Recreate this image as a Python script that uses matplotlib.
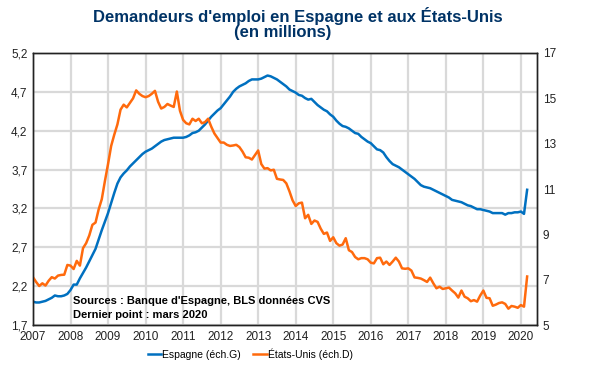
import numpy as np
import matplotlib
matplotlib.use("Agg")
import matplotlib.pyplot as plt
from matplotlib.ticker import FuncFormatter

plt.rcParams['font.family'] = ['Liberation Sans', 'DejaVu Sans']

# monthly values, Jan 2007 -> Mar 2020 (millions)
espagne = [
    2.00, 1.99, 1.99, 2.00, 2.01, 2.03, 2.05, 2.08, 2.07, 2.07, 2.08, 2.10,  # 2007
    2.15, 2.22, 2.22, 2.30, 2.37, 2.44, 2.52, 2.60, 2.68, 2.80, 2.92, 3.03,  # 2008
    3.14, 3.27, 3.40, 3.52, 3.60, 3.65, 3.69, 3.74, 3.78, 3.82, 3.86, 3.90,  # 2009
    3.93, 3.95, 3.97, 4.00, 4.03, 4.06, 4.08, 4.09, 4.10, 4.11, 4.11, 4.11,  # 2010
    4.11, 4.12, 4.14, 4.17, 4.18, 4.20, 4.24, 4.28, 4.33, 4.38, 4.42, 4.46,  # 2011
    4.49, 4.54, 4.59, 4.64, 4.70, 4.74, 4.77, 4.79, 4.81, 4.84, 4.86, 4.86,  # 2012
    4.86, 4.87, 4.89, 4.91, 4.90, 4.88, 4.86, 4.83, 4.80, 4.77, 4.73, 4.71,  # 2013
    4.69, 4.66, 4.65, 4.62, 4.60, 4.61, 4.57, 4.53, 4.50, 4.47, 4.45, 4.41,  # 2014
    4.38, 4.33, 4.29, 4.26, 4.25, 4.23, 4.20, 4.17, 4.16, 4.12, 4.09, 4.06,  # 2015
    4.04, 4.00, 3.96, 3.95, 3.92, 3.86, 3.81, 3.77, 3.75, 3.73, 3.70, 3.67,  # 2016
    3.64, 3.61, 3.58, 3.54, 3.50, 3.48, 3.47, 3.46, 3.44, 3.42, 3.40, 3.38,  # 2017
    3.36, 3.34, 3.31, 3.30, 3.29, 3.28, 3.26, 3.24, 3.23, 3.21, 3.19, 3.19,  # 2018
    3.18, 3.17, 3.16, 3.14, 3.14, 3.14, 3.14, 3.12, 3.14, 3.14, 3.15, 3.15,  # 2019
    3.16, 3.13, 3.44,                                                        # 2020
]

etats_unis = [
    7.11, 6.90, 6.72, 6.84, 6.74, 6.95, 7.11, 7.05, 7.18, 7.21, 7.22, 7.65,
    7.62, 7.47, 7.83, 7.62, 8.39, 8.61, 8.95, 9.42, 9.52, 10.10, 10.55, 11.35,
    12.10, 12.90, 13.40, 13.85, 14.50, 14.72, 14.60, 14.80, 15.00, 15.35, 15.20, 15.10,
    15.05, 15.10, 15.20, 15.33, 14.85, 14.55, 14.62, 14.75, 14.68, 14.62, 15.30, 14.45,
    14.05, 13.90, 13.85, 14.10, 14.00, 14.10, 13.90, 13.95, 14.10, 13.75, 13.45, 13.25,
    13.05, 13.05, 12.95, 12.90, 12.92, 12.95, 12.85, 12.65, 12.40, 12.38, 12.30, 12.50,
    12.70, 12.10, 11.90, 11.92, 11.82, 11.85, 11.45, 11.42, 11.40, 11.25, 10.90, 10.50,
    10.25, 10.37, 10.40, 9.71, 9.86, 9.46, 9.61, 9.55, 9.25, 9.02, 9.08, 8.71,
    8.87, 8.61, 8.50, 8.55, 8.83, 8.30, 8.22, 8.00, 7.90, 7.95, 7.95, 7.90,
    7.75, 7.72, 7.95, 7.97, 7.68, 7.80, 7.65, 7.80, 7.97, 7.80, 7.50, 7.48,
    7.50, 7.40, 7.10, 7.08, 7.05, 6.98, 6.90, 7.09, 6.84, 6.62, 6.69, 6.59,
    6.62, 6.65, 6.52, 6.40, 6.21, 6.52, 6.25, 6.18, 6.05, 6.10, 6.03, 6.30,
    6.52, 6.20, 6.18, 5.85, 5.90, 5.97, 6.00, 5.93, 5.72, 5.84, 5.81, 5.76,
    5.88, 5.81, 7.14,
]

annees = list(range(2007, 2021))
dates = 2007 + np.arange(len(espagne)) / 12

bleu = '#0070C0'
orange = '#FF6A0D'

fig = plt.figure(figsize=(5.93, 3.84), dpi=100)
ax = fig.add_axes([0.0556, 0.1536, 0.85, 0.7084])
ax2 = ax.twinx()

l1, = ax.plot(dates, espagne, color=bleu, lw=1.8, label='Espagne (éch.G)')
l2, = ax2.plot(dates, etats_unis, color=orange, lw=1.8, label='États-Unis (éch.D)')

ax.set_xlim(2007, 2020.43)
ax.set_ylim(1.7, 5.2)
ax.set_yticks(np.arange(1.7, 5.21, 0.5))
ax.yaxis.set_major_formatter(FuncFormatter(lambda v, p: f"{v:.1f}".replace('.', ',')))
ax2.set_ylim(5, 17)
ax2.set_yticks(range(5, 18, 2))
ax.set_xticks(annees)

ax.grid(True, color='#D9D9D9', lw=1.6)
ax.set_axisbelow(True)
for a in (ax, ax2):
    a.tick_params(length=0, labelsize=8.5, colors='#222222', pad=4)
    for s in a.spines.values():
        s.set_color('#222222')
        s.set_linewidth(1)

ax.text(0.079, 0.088, "Sources : Banque d'Espagne, BLS données CVS", transform=ax.transAxes,
        fontsize=8, fontweight='bold', va='center', ha='left')
ax.text(0.079, 0.037, "Dernier point : mars 2020", transform=ax.transAxes,
        fontsize=8, fontweight='bold', va='center', ha='left')

titre = dict(ha='center', va='center', fontsize=12, fontweight='bold', color='#003366')
fig.text(0.503, 0.958, "Demandeurs d'emploi en Espagne et aux États-Unis", **titre)
fig.text(0.477, 0.915, "(en millions)", **titre)

fig.legend(handles=[l1, l2], loc='center', bbox_to_anchor=(0.422, 0.078), ncol=2,
           frameon=False, fontsize=7.5, handlelength=1.3, handletextpad=0.1,
           columnspacing=1.2)

fig.savefig('out.png', dpi=100)
